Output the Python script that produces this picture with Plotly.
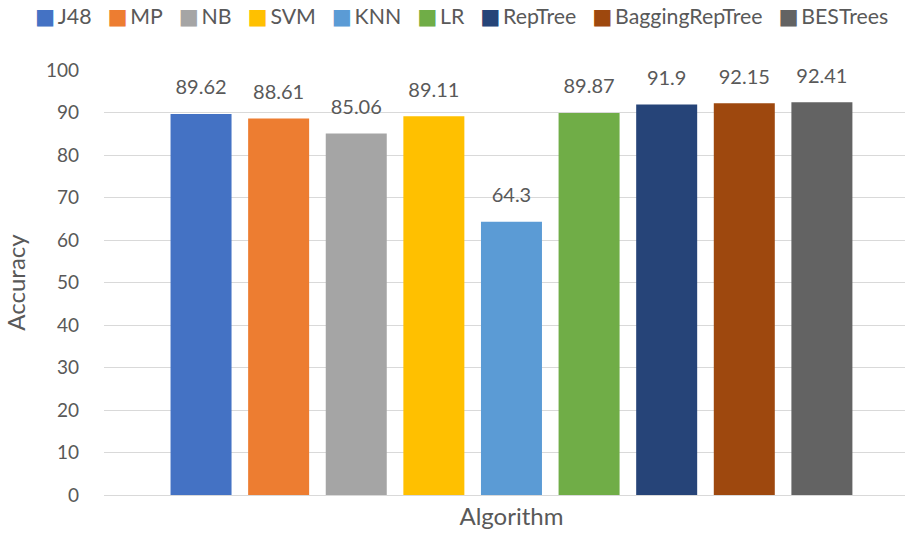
import plotly.graph_objects as go

algorithms = ["J48", "MP", "NB", "SVM", "KNN", "LR", "RepTree", "BaggingRepTree", "BESTrees"]
accuracy = [89.62, 88.61, 85.06, 89.11, 64.3, 89.87, 91.9, 92.15, 92.41]
category = ["Algorithm"]
y_ticks = [0, 10, 20, 30, 40, 50, 60, 70, 80, 90, 100]

colors = ["#4472C4", "#ED7D31", "#A5A5A5", "#FFC000", "#5B9BD5",
          "#70AD47", "#264478", "#9E480E", "#636363"]

FONT = "Lato, 'Open Sans', sans-serif"
GREY = "#595959"
BARGAP = 0.128

fig = go.Figure()
for i, (name, val, col) in enumerate(zip(algorithms, accuracy, colors)):
    fig.add_trace(go.Bar(
        name=name, x=category, y=[val], offsetgroup=str(i),
        marker=dict(color=col, line=dict(width=0)),
        hoverinfo="name+y", showlegend=False,
    ))
for i, val in enumerate(accuracy):
    fig.add_trace(go.Scatter(
        x=category, y=[val], offsetgroup=str(i), mode="markers+text",
        marker=dict(size=22, opacity=0), text=[f"{val:g}"],
        textposition="top center",
        textfont=dict(family=FONT, size=20, color=GREY),
        showlegend=False, cliponaxis=False, hoverinfo="skip",
    ))

# Legend drawn as one line of text (Excel-style compact legend)
legend_text = "\u2003".join(
    f"<span style='color:{c};font-family:DejaVu Sans'>\u25A0</span>\u2009{n}"
    for n, c in zip(algorithms, colors)
)
fig.add_annotation(
    text=legend_text, xref="paper", yref="paper", x=-0.0885, y=1.127,
    xanchor="left", yanchor="middle", showarrow=False,
    font=dict(family=FONT, size=21.3, color=GREY),
)

shift = 0.0087
fig.update_layout(
    width=909, height=533,
    paper_bgcolor="white", plot_bgcolor="white",
    barmode="group", bargap=BARGAP, bargroupgap=0.214,
    scattermode="group", scattergap=BARGAP,
    margin=dict(l=104, r=4, t=70, b=38, autoexpand=False),
    font=dict(family=FONT, color=GREY),
    showlegend=False,
    xaxis=dict(type="category", range=[-0.5 - shift, 0.5 - shift],
               showgrid=False, showline=True, linecolor="#d9d9d9", linewidth=1,
               tickfont=dict(size=24, color=GREY), ticks=""),
    yaxis=dict(range=[0, 100], tickvals=y_ticks, showgrid=True,
               gridcolor="#d9d9d9", gridwidth=1, zeroline=False, automargin=True,
               tickfont=dict(size=19, color=GREY), ticklabelstandoff=24,
               title=dict(text="Accuracy", font=dict(size=24, color=GREY), standoff=13)),
)

fig.write_html("out.html", config={"displayModeBar": False},
               post_script="document.body.style.margin='0';")
